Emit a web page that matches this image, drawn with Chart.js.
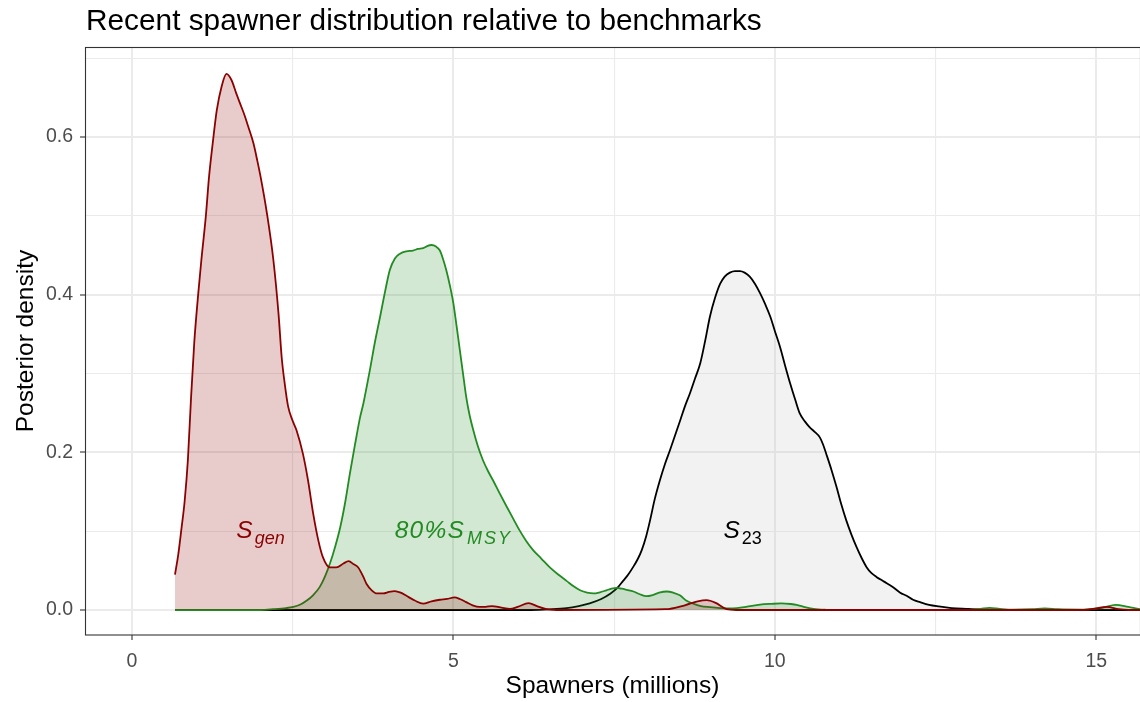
<!DOCTYPE html>
<html>
<head>
<meta charset="utf-8">
<script src="https://cdn.jsdelivr.net/npm/chart.js@4.4.1/dist/chart.umd.min.js"></script>
<style>
  html, body { margin: 0; padding: 0; background: #ffffff; }
  #wrap { width: 1140px; height: 702px; position: relative; }
</style>
</head>
<body>
<div id="wrap"><canvas id="c" width="1140" height="702"></canvas></div>
<script>
// Posterior densities of spawners (millions) for each benchmark
const sgenX = [0.67, 0.72, 0.77, 0.82, 0.87, 0.92, 0.97, 1.03, 1.08, 1.15, 1.20, 1.265, 1.32, 1.395, 1.47, 1.55, 1.62, 1.68, 1.75, 1.81, 1.89, 1.95, 2.0, 2.1, 2.2, 2.28, 2.33, 2.38, 2.43, 2.5, 2.56, 2.66, 2.74, 2.82, 2.9, 2.97, 3.08, 3.18, 3.29, 3.37, 3.45, 3.52, 3.6, 3.65, 3.73, 3.81, 3.91, 4.0, 4.09, 4.18, 4.27, 4.4, 4.53, 4.66, 4.79, 4.9, 5.02, 5.1, 5.2, 5.3, 5.41, 5.5, 5.6, 5.75, 5.88, 6.0, 6.17, 6.3, 6.45, 6.6, 8.3, 8.6, 8.8, 8.94, 9.08, 9.25, 9.4, 14.8, 15.0, 15.16, 15.35, 15.5, 16.0];
const sgenY = [0.045, 0.07, 0.103, 0.138, 0.19, 0.27, 0.34, 0.40, 0.444, 0.50, 0.55, 0.598, 0.634, 0.664, 0.680, 0.672, 0.656, 0.643, 0.628, 0.613, 0.592, 0.57, 0.55, 0.503, 0.444, 0.376, 0.32, 0.285, 0.258, 0.24, 0.228, 0.198, 0.164, 0.122, 0.088, 0.067, 0.054, 0.054, 0.059, 0.062, 0.058, 0.054, 0.042, 0.033, 0.025, 0.021, 0.021, 0.023, 0.024, 0.022, 0.018, 0.012, 0.008, 0.011, 0.013, 0.014, 0.016, 0.014, 0.010, 0.006, 0.004, 0.004, 0.005, 0.003, 0.0015, 0.004, 0.0087, 0.005, 0.001, 0, 0.001, 0.006, 0.011, 0.0125, 0.009, 0.001, 0, 0, 0.002, 0.004, 0.001, 0, 0];

const smsyX = [0.67, 2.0, 2.2, 2.4, 2.51, 2.62, 2.72, 2.82, 2.92, 3.0, 3.08, 3.16, 3.24, 3.32, 3.39, 3.47, 3.55, 3.6, 3.7, 3.78, 3.86, 3.94, 4.01, 4.09, 4.17, 4.27, 4.37, 4.45, 4.53, 4.6, 4.66, 4.73, 4.79, 4.84, 4.89, 4.95, 5.0, 5.05, 5.1, 5.15, 5.2, 5.25, 5.31, 5.38, 5.46, 5.54, 5.62, 5.72, 5.83, 5.93, 6.03, 6.13, 6.24, 6.37, 6.5, 6.63, 6.76, 6.87, 6.97, 7.08, 7.18, 7.28, 7.38, 7.46, 7.54, 7.62, 7.7, 7.8, 7.9, 8.0, 8.1, 8.2, 8.32, 8.42, 8.53, 8.62, 8.73, 8.85, 8.99, 9.15, 9.35, 9.55, 9.77, 9.95, 10.1, 10.25, 10.34, 10.45, 10.6, 10.8, 11.0, 13.0, 13.2, 13.34, 13.5, 13.7, 14.0, 14.2, 14.4, 14.8, 15.1, 15.3, 15.5, 15.7, 16.0];
const smsyY = [0, 0, 0.001, 0.0025, 0.004, 0.007, 0.012, 0.019, 0.029, 0.042, 0.059, 0.08, 0.105, 0.138, 0.173, 0.21, 0.245, 0.262, 0.304, 0.34, 0.372, 0.405, 0.431, 0.446, 0.452, 0.455, 0.456, 0.458, 0.459, 0.462, 0.463, 0.461, 0.456, 0.445, 0.431, 0.41, 0.389, 0.36, 0.330, 0.30, 0.270, 0.248, 0.228, 0.208, 0.190, 0.176, 0.164, 0.148, 0.131, 0.116, 0.101, 0.088, 0.076, 0.065, 0.054, 0.045, 0.037, 0.03, 0.025, 0.022, 0.021, 0.0225, 0.025, 0.027, 0.028, 0.027, 0.0255, 0.0235, 0.02, 0.0175, 0.019, 0.022, 0.0235, 0.022, 0.0184, 0.012, 0.008, 0.005, 0.0036, 0.0025, 0.002, 0.004, 0.0068, 0.0078, 0.0083, 0.0076, 0.0066, 0.004, 0.0015, 0.0003, 0, 0, 0.0015, 0.0028, 0.0015, 0.0005, 0.001, 0.002, 0.001, 0.0005, 0.003, 0.0066, 0.004, 0.001, 0];

const s23X = [0.67, 6.2, 6.5, 6.76, 6.95, 7.12, 7.3, 7.44, 7.55, 7.64, 7.72, 7.8, 7.87, 7.93, 8.0, 8.06, 8.13, 8.21, 8.29, 8.37, 8.45, 8.53, 8.6, 8.68, 8.76, 8.84, 8.92, 8.99, 9.07, 9.15, 9.22, 9.30, 9.38, 9.46, 9.53, 9.61, 9.69, 9.77, 9.85, 9.93, 10.0, 10.08, 10.16, 10.24, 10.32, 10.39, 10.47, 10.54, 10.62, 10.70, 10.75, 10.8, 10.88, 10.96, 11.03, 11.11, 11.19, 11.27, 11.35, 11.43, 11.5, 11.58, 11.7, 11.84, 11.95, 12.05, 12.15, 12.26, 12.4, 12.55, 12.75, 12.98, 13.2, 13.5, 14.0, 16.0];
const s23Y = [0, 0, 0.0008, 0.0023, 0.005, 0.0085, 0.014, 0.0206, 0.028, 0.037, 0.045, 0.055, 0.065, 0.076, 0.094, 0.114, 0.14, 0.164, 0.185, 0.203, 0.222, 0.241, 0.258, 0.275, 0.294, 0.313, 0.343, 0.372, 0.396, 0.414, 0.423, 0.428, 0.430, 0.430, 0.428, 0.423, 0.414, 0.402, 0.388, 0.372, 0.354, 0.334, 0.310, 0.287, 0.266, 0.249, 0.239, 0.232, 0.226, 0.219, 0.21, 0.198, 0.178, 0.156, 0.135, 0.114, 0.096, 0.080, 0.066, 0.054, 0.047, 0.042, 0.036, 0.029, 0.022, 0.018, 0.013, 0.0099, 0.0065, 0.0045, 0.0025, 0.0015, 0.0007, 0.0002, 0, 0];

// Axis ticks
const xMajorTicks = [0, 5, 10, 15];
const xMajorLabels = ['0', '5', '10', '15'];
const xMinorTicks = [2.5, 7.5, 12.5];
const yMajorTicks = [0, 0.2, 0.4, 0.6];
const yMajorLabels = ['0.0', '0.2', '0.4', '0.6'];
const yMinorTicks = [0.1, 0.3, 0.5, 0.7];

// Benchmark labels placed inside each density
const labelX = [2, 5, 9.5];
const labelY = [0.1, 0.1, 0.1];
const labelMain = ['S', '80%S', 'S'];
const labelSub = ['gen', 'MSY', '23'];
const labelSubItalic = [true, true, false];
const labelMainSpacing = [0, 1.2, 0];
const labelSubSpacing = [0, 2, 0];
const labelColor = ['#8B0000', '#228B22', '#000000'];

const FONT = '"Liberation Sans", Arial, Helvetica, sans-serif';

const toPoints = (xs, ys) => xs.map((x, i) => ({ x: x, y: ys[i] }));

function majorOf(list, v) { return list.indexOf(v) >= 0; }

function tickSet(major, minor) {
  return major.concat(minor).sort((a, b) => a - b).map(v => ({ value: v }));
}

function setSpacing(ctx, px) {
  if ('letterSpacing' in ctx) ctx.letterSpacing = px + 'px';
}

const panelPlugin = {
  id: 'panel',
  afterDatasetsDraw(chart) {
    const ctx = chart.ctx;
    const a = chart.chartArea;
    const xs = chart.scales.x, ys = chart.scales.y;
    ctx.save();
    // benchmark labels: italic symbol with a smaller subscript
    for (let i = 0; i < labelX.length; i++) {
      const px = xs.getPixelForValue(labelX[i]);
      const py = ys.getPixelForValue(labelY[i]);
      const mainFont = 'italic 24.5px ' + FONT;
      const subFont = (labelSubItalic[i] ? 'italic ' : '') + '18px ' + FONT;
      ctx.font = mainFont;
      setSpacing(ctx, labelMainSpacing[i]);
      const wMain = ctx.measureText(labelMain[i]).width;
      ctx.font = subFont;
      setSpacing(ctx, labelSubSpacing[i]);
      const wSub = ctx.measureText(labelSub[i]).width;
      const gap = 2;
      const total = wMain + gap + wSub;
      const x0 = px - total / 2;
      ctx.fillStyle = labelColor[i];
      ctx.textBaseline = 'alphabetic';
      ctx.textAlign = 'left';
      ctx.font = mainFont;
      setSpacing(ctx, labelMainSpacing[i]);
      ctx.fillText(labelMain[i], x0, py + 6.5);
      ctx.font = subFont;
      setSpacing(ctx, labelSubSpacing[i]);
      ctx.fillText(labelSub[i], x0 + wMain + gap, py + 12.5);
      setSpacing(ctx, 0);
    }
    // panel border
    ctx.strokeStyle = '#333333';
    ctx.lineWidth = 1.1;
    ctx.strokeRect(a.left + 0.5, a.top + 0.5, a.right - a.left, a.bottom - a.top - 0.5);
    ctx.restore();
  },
  afterDraw(chart) {
    const ctx = chart.ctx;
    ctx.save();
    ctx.fillStyle = '#000000';
    ctx.font = '29.8px ' + FONT;
    ctx.textBaseline = 'alphabetic';
    ctx.textAlign = 'left';
    ctx.fillText('Recent spawner distribution relative to benchmarks', 86, 30);
    ctx.restore();
  }
};

new Chart(document.getElementById('c'), {
  type: 'line',
  data: {
    datasets: [
      {
        label: 'S23',
        data: toPoints(s23X, s23Y),
        borderColor: '#000000',
        backgroundColor: 'rgba(190,190,190,0.2)',
        fill: 'origin',
        order: 3
      },
      {
        label: '80% SMSY',
        data: toPoints(smsyX, smsyY),
        borderColor: '#228B22',
        backgroundColor: 'rgba(34,139,34,0.2)',
        fill: 'origin',
        order: 2
      },
      {
        label: 'Sgen',
        data: toPoints(sgenX, sgenY),
        borderColor: '#8B0000',
        backgroundColor: 'rgba(139,0,0,0.2)',
        fill: 'origin',
        order: 1
      }
    ]
  },
  options: {
    responsive: false,
    animation: false,
    devicePixelRatio: 1,
    events: [],
    layout: { padding: { top: 47, left: 0, right: 0, bottom: 0 } },
    elements: {
      point: { radius: 0 },
      line: { borderWidth: 1.8, cubicInterpolationMode: 'monotone' }
    },
    plugins: {
      legend: { display: false },
      tooltip: { enabled: false },
      title: { display: false }
    },
    scales: {
      x: {
        type: 'linear',
        min: -0.73,
        max: 15.68,
        afterBuildTicks: s => { s.ticks = tickSet(xMajorTicks, xMinorTicks); },
        afterFit: s => { s.height = 67; },
        border: { display: false },
        grid: {
          color: '#EBEBEB',
          lineWidth: c => (c.tick && majorOf(xMajorTicks, c.tick.value)) ? 2 : 1.1,
          tickColor: c => (c.tick && majorOf(xMajorTicks, c.tick.value)) ? '#333333' : 'rgba(0,0,0,0)',
          tickLength: 5,
          tickWidth: 1.1
        },
        ticks: {
          autoSkip: false,
          maxRotation: 0,
          padding: 10,
          color: '#4D4D4D',
          font: { family: FONT, size: 19.5 },
          callback: v => { const i = xMajorTicks.indexOf(v); return i >= 0 ? xMajorLabels[i] : ''; }
        },
        title: {
          display: true,
          text: 'Spawners (millions)',
          color: '#000000',
          font: { family: FONT, size: 24.5 },
          padding: { top: 0, bottom: 1.5 }
        }
      },
      y: {
        type: 'linear',
        min: -0.0317,
        max: 0.7142,
        afterBuildTicks: s => { s.ticks = tickSet(yMajorTicks, yMinorTicks); },
        afterFit: s => { s.width = 85; },
        border: { display: false },
        grid: {
          color: '#EBEBEB',
          lineWidth: c => (c.tick && majorOf(yMajorTicks, c.tick.value)) ? 2 : 1.1,
          tickColor: c => (c.tick && majorOf(yMajorTicks, c.tick.value)) ? '#333333' : 'rgba(0,0,0,0)',
          tickLength: 5,
          tickWidth: 1.1
        },
        ticks: {
          autoSkip: false,
          padding: 7,
          color: '#4D4D4D',
          font: { family: FONT, size: 19.5 },
          callback: v => { const i = yMajorTicks.indexOf(v); return i >= 0 ? yMajorLabels[i] : ''; }
        },
        title: {
          display: true,
          text: 'Posterior density',
          color: '#000000',
          font: { family: FONT, size: 24.5 },
          padding: { top: 12, bottom: 0 }
        }
      }
    }
  },
  plugins: [panelPlugin]
});
</script>
</body>
</html>
